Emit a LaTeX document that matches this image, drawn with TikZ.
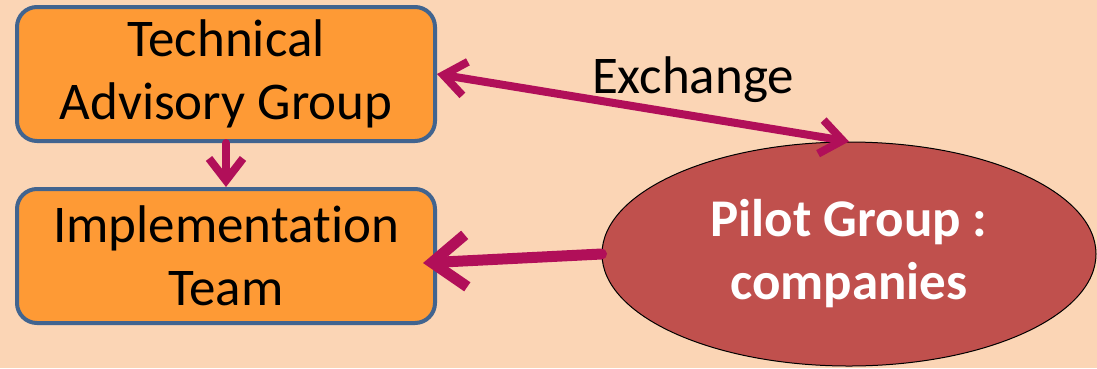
\documentclass[tikz,border=0pt]{standalone}
\usepackage{fontspec}
\setmainfont[Ligatures=NoCommon]{Carlito}
\usetikzlibrary{shapes.geometric, arrows.meta}

\definecolor{bgpeach}{HTML}{FBD5B5}
\definecolor{boxorange}{HTML}{FE9A35}
\definecolor{boxblue}{HTML}{41648F}
\definecolor{linkred}{HTML}{B10F59}
\definecolor{pilotred}{HTML}{C0504D}

\begin{document}
\begin{tikzpicture}[x=1pt, y=-1pt, every node/.style={align=center, font=\fontsize{53}{63}\selectfont}]
    \tikzstyle{group}=[rectangle, rounded corners=20pt, minimum width=418pt, minimum height=134pt, draw=boxblue, line width=4pt, fill=boxorange, inner sep=0pt]
    \tikzstyle{pilot}=[ellipse, minimum width=494pt, minimum height=224pt, draw=black, line width=1pt, fill=pilotred, text=white, inner sep=0pt]
    \tikzstyle{link}=[draw=linkred, line width=8pt, line cap=round, -{Straight Barb[length=22pt, width=34pt]}]

    % Background
    \fill[bgpeach] (0,0) rectangle (1097,368);
    \useasboundingbox (0,0) rectangle (1097,368);

    % Groups on the left
    \node[group] (TAG) at (226,74) {Technical\\Advisory Group};
    \node[group] (IT) at (226,256) {Implementation\\Team};

    % Pilot group
    \node[pilot] (PG) at (849,254) {\bfseries Pilot Group :\\\bfseries companies};

    % Label
    \node (EX) at (693,80) {Exchange};

    % Connections
    \draw[link] (TAG) -- (IT);
    \draw[link, {Straight Barb[length=22pt, width=34pt]}-{Straight Barb[length=22pt, width=34pt]}] (TAG.east) -- (PG.north);
    \draw[link, line width=11pt, -{Straight Barb[length=34pt, width=52pt]}] (PG.west) -- ([xshift=-14pt, yshift=-7pt]IT.east);

\end{tikzpicture}
\end{document}
